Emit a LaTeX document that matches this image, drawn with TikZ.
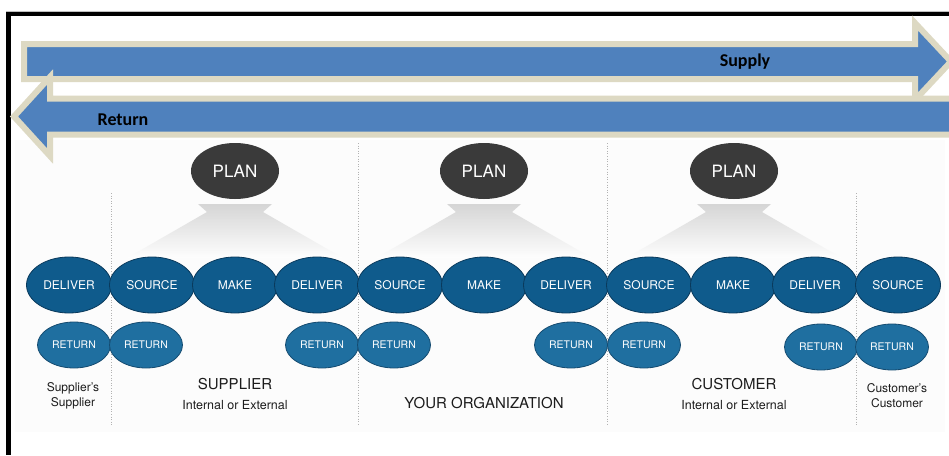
\documentclass[tikz,border=0pt]{standalone}
\usepackage{fontspec}
\setmainfont{TeX Gyre Heros}
\newfontfamily\calib{Carlito}
\usetikzlibrary{shapes.geometric}
\definecolor{arrowblue}{HTML}{4F81BD}
\definecolor{beige}{HTML}{DDD9C3}
\definecolor{topblue}{HTML}{0F5B8C}
\definecolor{topedge}{HTML}{0A3A5C}
\definecolor{retblue}{HTML}{1F6FA0}
\definecolor{retedge}{HTML}{154B70}
\definecolor{plangray}{HTML}{3A3A3A}
\definecolor{txt}{HTML}{1C1C1C}
\tikzset{
  bigarrow/.style={fill=arrowblue, draw=beige, line width=6pt, line join=miter},
  arrlabel/.style={font=\calib\bfseries\fontsize{18}{18}\selectfont, text=black},
  planbox/.style={ellipse, fill=plangray, minimum width=88pt, minimum height=56pt, inner sep=0pt, text=white, font=\fontsize{17}{17}\selectfont},
  procbox/.style={ellipse, fill=topblue, draw=topedge, line width=0.8pt, minimum width=85pt, minimum height=56pt, inner sep=0pt, text=white, font=\fontsize{12}{12}\selectfont},
  retbox/.style={ellipse, fill=retblue, draw=retedge, line width=0.8pt, minimum width=73pt, minimum height=46pt, inner sep=0pt, text=white, font=\fontsize{10.5}{10.5}\selectfont},
  bigcap/.style={text=txt, font=\fontsize{15}{15}\selectfont},
  subcap/.style={text=txt, font=\fontsize{12.5}{12.5}\selectfont},
  smallcap/.style={text=txt, align=center, font=\fontsize{12}{15}\selectfont},
  divider/.style={gray!60, dotted, line width=0.6pt},
  shadowfan/.style={top color=gray!45, bottom color=white, draw=none, opacity=0.7}
}
\begin{document}
\begin{tikzpicture}[x=1pt, y=-1pt]
\useasboundingbox (0,0) rectangle (949,455);
\begin{scope}
\clip (0,0) rectangle (949,455);
\fill[white] (0,0) rectangle (949,455);
% light background panel
\fill[gray!2.5] (15,140) rectangle (945,432);
% black frame
\draw[gray!50, line width=0.6pt] (6,11) -- (949,11);
\draw[black, line width=4pt] (8,14) -- (949,14);
\draw[black, line width=5pt] (8,12) -- (8,455);
% supply arrow
\draw[bigarrow] (24,44) -- (915,44) -- (915,23) -- (951,61.5) -- (915,100) -- (915,79) -- (24,79) -- cycle;
% return arrow
\draw[bigarrow] (965,98.5) -- (50,98.5) -- (50,77) -- (14,116.5) -- (50,156) -- (50,134.5) -- (965,134.5) -- cycle;
\node[arrlabel] (supplylbl) at (745,62) {Supply};
\node[arrlabel] (returnlbl) at (123,120) {Return};
\end{scope}
% dividers
\draw[divider] (111,193) -- (111,425);
\draw[divider] (358,143) -- (358,425);
\draw[divider] (607,143) -- (607,425);
\draw[divider] (856,193) -- (856,425);
% plan shadows
\foreach \cx in {235,484,734}{
  \shade[shadowfan] (\cx-37,204) -- (\cx+37,204) -- (\cx+28,212) -- (\cx+108,258) -- (\cx-108,258) -- (\cx-28,212) -- cycle;
}
% plan nodes
\node[planbox] (plan1) at (235,171) {PLAN};
\node[planbox] (plan2) at (484,171) {PLAN};
\node[planbox] (plan3) at (734,171) {PLAN};
% top row
\node[procbox] (d0) at (69,285) {DELIVER};
\node[procbox] (s1) at (152,285) {SOURCE};
\node[procbox] (m1) at (235,285) {MAKE};
\node[procbox] (d1) at (317,285) {DELIVER};
\node[procbox] (s2) at (400,285) {SOURCE};
\node[procbox] (m2) at (484,285) {MAKE};
\node[procbox] (d2) at (566,285) {DELIVER};
\node[procbox] (s3) at (649,285) {SOURCE};
\node[procbox] (m3) at (733,285) {MAKE};
\node[procbox] (d3) at (815,285) {DELIVER};
\node[procbox] (s4) at (898,285) {SOURCE};
% return row
\node[retbox] (r1) at (74,345) {RETURN};
\node[retbox] (r2) at (146,345) {RETURN};
\node[retbox] (r3) at (322,345) {RETURN};
\node[retbox] (r4) at (394,345) {RETURN};
\node[retbox] (r5) at (571,345) {RETURN};
\node[retbox] (r6) at (644,345) {RETURN};
\node[retbox] (r7) at (821,347) {RETURN};
\node[retbox] (r8) at (892,347) {RETURN};
% captions
\node[smallcap] (ss) at (73,396) {Supplier’s\\Supplier};
\node[bigcap] (sup) at (235,384) {SUPPLIER};
\node[subcap] (supie) at (235,405) {Internal or External};
\node[bigcap] (org) at (484,403) {YOUR ORGANIZATION};
\node[bigcap] (cus) at (734,384) {CUSTOMER};
\node[subcap] (cusie) at (734,405) {Internal or External};
\node[smallcap] (cc) at (897,396) {Customer’s\\Customer};
\end{tikzpicture}
\end{document}
